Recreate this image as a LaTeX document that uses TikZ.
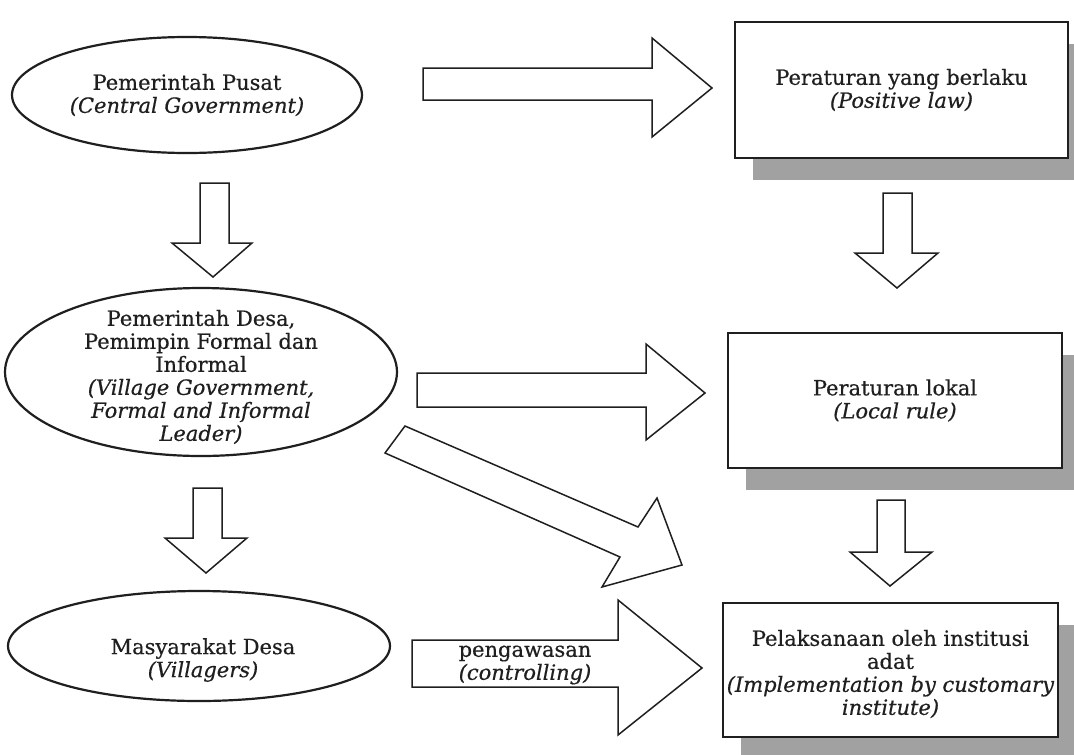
\documentclass[tikz,border=0pt]{standalone}
\usepackage{fontspec}
\setmainfont{DejaVu Serif}[UprightFeatures={FakeBold=0.5}, ItalicFeatures={FakeBold=0.5}]
\usetikzlibrary{shapes.geometric}
\newcommand\fsz{\fontsize{21}{23}\selectfont}
\definecolor{shadowc}{gray}{0.63}
\definecolor{inkc}{gray}{0.12}
\tikzset{
  oval/.style={draw=inkc, line width=2.2pt, ellipse, inner sep=0pt, align=center, font=\fsz, text=inkc},
  rulebox/.style={draw=inkc, line width=1.9pt, fill=white, rectangle, inner sep=0pt, align=center, font=\fsz, text=inkc},
  blockarrow/.style={draw=inkc, line width=1.5pt, fill=white, line join=miter},
  boxshadow/.style={fill=shadowc},
  lbl/.style={align=center, font=\fsz, text=inkc, inner sep=0pt}
}
\begin{document}
\begin{tikzpicture}[x=1pt,y=-1pt]
\useasboundingbox (0,0) rectangle (1074,755);
\clip (0,0) rectangle (1074,755);
\fill[white] (0,0) rectangle (1074,755);

% ellipses
\node[oval, minimum width=350pt, minimum height=116pt] (pusat) at (187,95)
  {Pemerintah Pusat\\ \textit{(Central Government)}};
\node[oval, minimum width=392pt, minimum height=168pt] (desa) at (201,372) {};
\node[lbl] (desatext) at (201,377)
  {Pemerintah Desa,\\ Pemimpin Formal dan\\ Informal\\ \textit{(Village Government,}\\ \textit{Formal and Informal}\\ \textit{Leader)}};
\node[oval, minimum width=382pt, minimum height=110pt] (masy) at (199,646) {};
\node[lbl] (masytext) at (203,660) {Masyarakat Desa\\ \textit{(Villagers)}};

% box shadows
\coordinate (hukumpos) at (901.5,90);
\coordinate (lokalpos) at (895,400.5);
\coordinate (adatpos) at (890.5,670);
\fill[boxshadow] ([xshift=18pt,yshift=-22pt]hukumpos) ++(-166.5pt,-68pt) rectangle ++(333pt,136pt);
\fill[boxshadow] ([xshift=18pt,yshift=-22pt]lokalpos) ++(-167pt,-67.5pt) rectangle ++(334pt,135pt);
\fill[boxshadow] ([xshift=18pt,yshift=-22pt]adatpos) ++(-167.5pt,-67pt) rectangle ++(335pt,134pt);

% boxes
\node[rulebox, minimum width=333pt, minimum height=136pt] (hukum) at (hukumpos)
  {Peraturan yang berlaku\\ \textit{(Positive law)}};
\node[rulebox, minimum width=334pt, minimum height=135pt] (lokal) at (lokalpos)
  {Peraturan lokal\\ \textit{(Local rule)}};
\node[rulebox, minimum width=335pt, minimum height=134pt] (adat) at (adatpos) {};
\node[lbl] (adattext) at (890.5,674)
  {Pelaksanaan oleh institusi\\ adat\\ \textit{(Implementation by customary}\\ \textit{institute)}};

% right-pointing block arrows
\draw[blockarrow] (423,68) -- (652,68) -- (652,38) -- (712,88) -- (652,137) -- (652,100) -- (423,100) -- cycle;
\draw[blockarrow] (417,373) -- (646,373) -- (646,344) -- (705,393) -- (646,440) -- (646,407) -- (417,407) -- cycle;
\draw[blockarrow] (412,640) -- (618,640) -- (618,600) -- (702,668) -- (618,735) -- (618,687) -- (412,687) -- cycle;
\node[lbl] (ctrl) at (525,665) {pengawasan\\ \textit{(controlling)}};

% diagonal block arrow
\draw[blockarrow] (405,426) -- (638,527) -- (657,498) -- (682,565) -- (602,587) -- (620,557) -- (385,453) -- cycle;

% down-pointing block arrows
\draw[blockarrow] (200,183) -- (229,183) -- (229,243) -- (252,243) -- (213,277) -- (172,243) -- (200,243) -- cycle;
\draw[blockarrow] (883,193) -- (912,193) -- (912,253) -- (938,253) -- (897,288) -- (855,253) -- (883,253) -- cycle;
\draw[blockarrow] (193,488) -- (222,488) -- (222,538) -- (247,538) -- (206,573) -- (165,538) -- (193,538) -- cycle;
\draw[blockarrow] (877,500) -- (905,500) -- (905,552) -- (932,552) -- (890,586) -- (850,552) -- (877,552) -- cycle;
\end{tikzpicture}
\end{document}
